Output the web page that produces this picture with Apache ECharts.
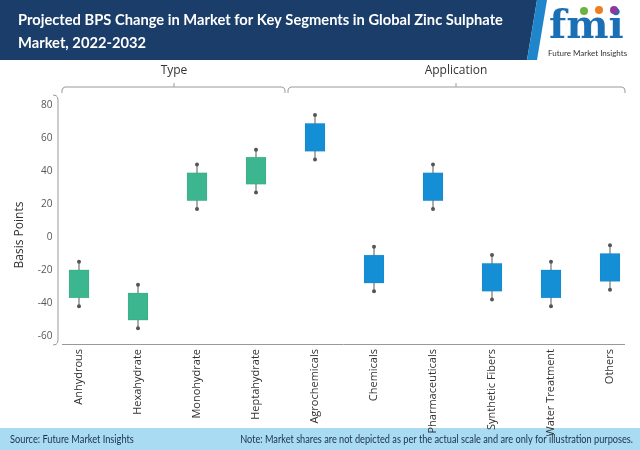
<!DOCTYPE html>
<html>
<head>
<meta charset="utf-8">
<script src="https://cdn.jsdelivr.net/npm/echarts@6/dist/echarts.min.js"></script>
<style>
  html, body { margin: 0; padding: 0; background: #fff; }
  #chart { width: 640px; height: 450px; }
</style>
</head>
<body>
<div id="chart"></div>
<script>
// 分类（前4个属于 Type，后6个属于 Application）
const categories = ["Anhydrous", "Hexahydrate", "Monohydrate", "Heptahydrate", "Agrochemicals",
  "Chemicals", "Pharmaceuticals", "Synthetic Fibers", "Water Treatment", "Others"];
const typeCount = 4;
// 每个分类的 须线最低点 / 箱体下沿 / 箱体上沿 / 须线最高点
const lows = [-42, -55.5, 17, 27, 47, -33, 17, -38, -42, -32];
const boxLow = [-37, -50.5, 22, 32, 52, -28, 22, -33, -37, -27];
const boxHigh = [-20, -34, 39, 48.5, 69, -11, 39, -16, -20, -10];
const highs = [-15, -29, 44, 53, 74, -6, 44, -11, -15, -5];
const yTicks = [-60, -40, -20, 0, 20, 40, 60, 80];

(function () {
  let myChart = echarts.init(document.getElementById("chart"));

  // custom series 的数据：[分类索引, 最低, 箱下, 箱上, 最高]
  let boxData = categories.map((c, i) => [i, lows[i], boxLow[i], boxHigh[i], highs[i]]);

  function renderBox(params, api) {
    let i = api.value(0);
    let pLow = api.coord([i, api.value(1)]);
    let pB1 = api.coord([i, api.value(2)]);
    let pB2 = api.coord([i, api.value(3)]);
    let pHigh = api.coord([i, api.value(4)]);
    let w = 20;
    let color = i < typeCount ? "#3bb68f" : "#148fd6";
    return {
      type: "group",
      children: [
        { type: "line", shape: { x1: pLow[0], y1: pLow[1], x2: pHigh[0], y2: pHigh[1] },
          style: { stroke: "#5a5a5a", lineWidth: 1 } },
        { type: "circle", shape: { cx: pLow[0], cy: pLow[1], r: 2 }, style: { fill: "#555" } },
        { type: "circle", shape: { cx: pHigh[0], cy: pHigh[1], r: 2 }, style: { fill: "#555" } },
        { type: "rect", shape: { x: pB2[0] - w / 2, y: pB2[1], width: w, height: pB1[1] - pB2[1] },
          style: { fill: color, stroke: "rgba(0,0,0,0.06)", lineWidth: 1 } }
      ]
    };
  }

  // 括号形状的折线（圆角用几个点近似）
  function bracket(x1, x2, y, mid) {
    return [
      { type: "polyline", shape: { points: [[x1, y + 6], [x1, y + 3], [x1 + 1, y + 1], [x1 + 3, y], [x2 - 3, y], [x2 - 1, y + 1], [x2, y + 3], [x2, y + 6]] },
        style: { stroke: "#999", fill: null, lineWidth: 1 } },
      { type: "line", shape: { x1: mid, y1: y, x2: mid, y2: y - 4 }, style: { stroke: "#999", lineWidth: 1 } }
    ];
  }

  let option = {
    animation: false,
    grid: { left: 49.5, right: 0.5, top: 97, bottom: 106 },
    xAxis: {
      type: "category",
      data: categories,
      axisLine: { show: false },
      axisTick: { show: false },
      axisLabel: { rotate: 90, color: "#333", fontSize: 11, margin: 5, fontFamily: "Open Sans", interval: 0 }
    },
    yAxis: {
      type: "value",
      min: -65,
      max: 85,
      interval: 5,
      offset: -8,
      axisLine: { show: false },
      axisTick: { show: false },
      splitLine: { show: false },
      axisLabel: {
        color: "#555", fontSize: 10, margin: 5, fontFamily: "Open Sans",
        formatter: v => (yTicks.indexOf(v) >= 0 ? String(v) : "")
      }
    },
    series: [{
      type: "custom",
      renderItem: renderBox,
      encode: { x: 0, y: [1, 2, 3, 4] },
      data: boxData
    }],
    graphic: [
      // 顶部深蓝标题栏
      { type: "polygon", shape: { points: [[0, 0], [537, 0], [527, 60], [0, 60]] }, style: { fill: "#1b3d6a" } },
      { type: "polygon", shape: { points: [[537, 0], [547, 0], [537, 60], [527, 60]] }, style: { fill: "#1f86cc" } },
      { type: "text", x: 18, y: 9, scaleX: 0.98, style: {
          text: "Projected BPS Change in Market for Key Segments in Global Zinc Sulphate\nMarket, 2022-2032",
          fill: "#fff", font: "bold 15px Lato", lineHeight: 23 } },
      // logo
      { type: "text", x: 549, y: 8, style: { text: "fmi", fill: "#1b6fb5",
          font: "bold 40px 'DejaVu Serif'" } },
      { type: "circle", shape: { cx: 584, cy: 11, r: 4 }, style: { fill: "#6cb33f" } },
      { type: "circle", shape: { cx: 599, cy: 10, r: 4 }, style: { fill: "#ef7d22" } },
      { type: "circle", shape: { cx: 614, cy: 10, r: 4 }, style: { fill: "#8b3a9e" } },
      { type: "text", x: 548, y: 49, style: { text: "Future Market Insights", fill: "#333",
          font: "8px Lato" } },
      // 顶部分组括号
      ...bracket(62, 285, 87, 174),
      ...bracket(288, 625, 87, 456),
      { type: "text", x: 174, y: 71, style: { text: "Type", fill: "#333", font: "12px 'Open Sans'", align: "center", verticalAlign: "middle" } },
      { type: "text", x: 456, y: 71, style: { text: "Application", fill: "#333", font: "12px 'Open Sans'", align: "center", verticalAlign: "middle" } },
      // y轴名称
      { type: "text", x: 20, y: 235, rotation: Math.PI / 2, style: { text: "Basis Points", fill: "#333",
          font: "12px 'Open Sans'", align: "center", verticalAlign: "middle" } },
      // 坐标轴线
      { type: "polyline", shape: { points: [[53, 95], [56, 95.6], [57.5, 97], [58, 100], [58, 340], [57.5, 343], [56, 344.4], [53, 345]] },
        style: { stroke: "#999", fill: null, lineWidth: 1 } },
      { type: "line", shape: { x1: 62, y1: 344.5, x2: 625, y2: 344.5 }, style: { stroke: "#999", lineWidth: 1 } },
      // 底部来源栏
      { type: "rect", shape: { x: 0, y: 428, width: 640, height: 22 }, style: { fill: "#a9dcf2" } },
      { type: "text", x: 10, y: 440, scaleX: 0.88, style: { text: "Source: Future Market Insights", fill: "#1b2f4a",
          font: "10.5px Lato", verticalAlign: "middle" } },
      { type: "text", x: 633, y: 440, scaleX: 0.875, style: {
          text: "Note: Market shares are not depicted as per the actual scale and are only for illustration purposes.",
          fill: "#1b2f4a", font: "10.5px Lato", align: "right", verticalAlign: "middle" } }
    ]
  };

  myChart.setOption(option);
  window.addEventListener("resize", function () {
    myChart.resize();
  });
})();
</script>
</body>
</html>
